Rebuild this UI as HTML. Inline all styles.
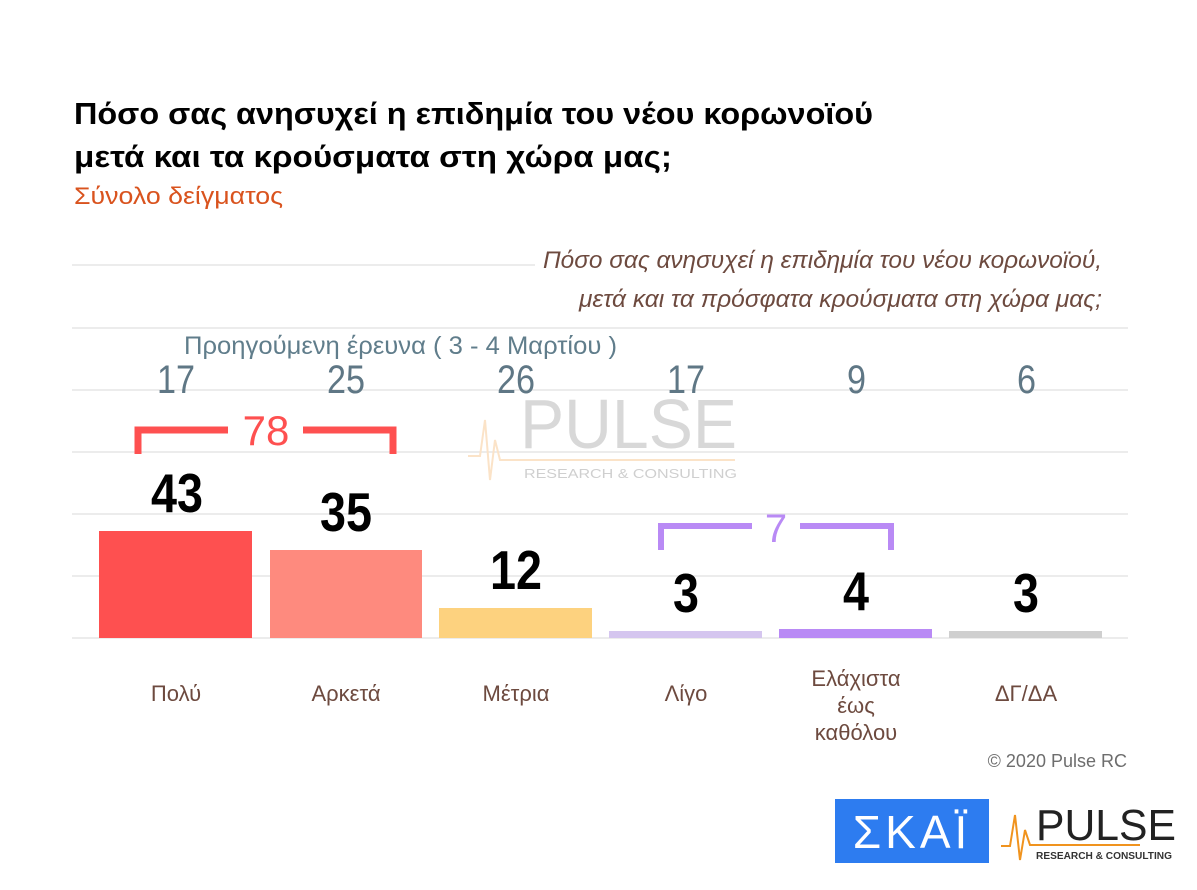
<!DOCTYPE html>
<html><head><meta charset="utf-8"><style>
body{margin:0;background:#fff;}
svg text{font-family:"Liberation Sans",sans-serif;}
</style></head><body>
<svg width="1197" height="885" viewBox="0 0 1197 885" xmlns="http://www.w3.org/2000/svg">
<rect width="1197" height="885" fill="#fff"/>
<text x="74" y="124" font-size="31" font-weight="bold" fill="#000" textLength="799" lengthAdjust="spacingAndGlyphs">Πόσο σας ανησυχεί η επιδημία του νέου κορωνοϊού</text>
<text x="74" y="167" font-size="31" font-weight="bold" fill="#000" textLength="598" lengthAdjust="spacingAndGlyphs">μετά και τα κρούσματα στη χώρα μας;</text>
<text x="74" y="204" font-size="24" fill="#d9531e" textLength="209" lengthAdjust="spacingAndGlyphs">Σύνολο δείγματος</text>
<g stroke="#e6e6e6" stroke-width="1.5">
<line x1="72" y1="265" x2="535" y2="265"/>
<line x1="72" y1="328" x2="1128" y2="328"/>
<line x1="72" y1="390" x2="1128" y2="390"/>
<line x1="72" y1="452" x2="1128" y2="452"/>
<line x1="72" y1="514" x2="1128" y2="514"/>
<line x1="72" y1="576" x2="1128" y2="576"/>
<line x1="72" y1="638" x2="1128" y2="638"/>
</g>
<text x="543" y="268" font-size="24" font-style="italic" fill="#6d4a3f" textLength="559" lengthAdjust="spacingAndGlyphs">Πόσο σας ανησυχεί η επιδημία του νέου κορωνοϊού,</text>
<text x="579" y="307" font-size="24" font-style="italic" fill="#6d4a3f" textLength="523" lengthAdjust="spacingAndGlyphs">μετά και τα πρόσφατα κρούσματα στη χώρα μας;</text>
<text x="184" y="354" font-size="25" fill="#607d8b" textLength="433" lengthAdjust="spacingAndGlyphs">Προηγούμενη έρευνα   ( 3 - 4  Μαρτίου )</text>
<g font-size="40" fill="#5f7785">
<text x="157" y="393" textLength="38" lengthAdjust="spacingAndGlyphs">17</text>
<text x="327" y="393" textLength="38" lengthAdjust="spacingAndGlyphs">25</text>
<text x="497" y="393" textLength="38" lengthAdjust="spacingAndGlyphs">26</text>
<text x="667" y="393" textLength="38" lengthAdjust="spacingAndGlyphs">17</text>
<text x="847" y="393" textLength="19" lengthAdjust="spacingAndGlyphs">9</text>
<text x="1017" y="393" textLength="19" lengthAdjust="spacingAndGlyphs">6</text>
</g>
<!-- watermark -->
<text x="520" y="448" font-size="70" fill="#d8d8d8" textLength="217" lengthAdjust="spacingAndGlyphs">PULSE</text>
<text x="524" y="478" font-size="13" fill="#cfcfcf" textLength="213" lengthAdjust="spacingAndGlyphs">RESEARCH &amp; CONSULTING</text>
<polyline points="468,456 480,456 485,420 490,480 495,440 500,460 735,460" fill="none" stroke="#fbe3c8" stroke-width="2"/>
<!-- brackets -->
<g fill="none" stroke="#fe5050" stroke-width="7">
<polyline points="138,454 138,430 228,430"/>
<polyline points="303,430 393,430 393,454"/>
</g>
<text x="266" y="445" font-size="42" fill="#fe5050" text-anchor="middle">78</text>
<g fill="none" stroke="#b98af5" stroke-width="6">
<polyline points="661,550 661,526 752,526"/>
<polyline points="800,526 891,526 891,550"/>
</g>
<text x="776" y="542" font-size="40" fill="#b98af5" text-anchor="middle">7</text>
<!-- bars -->
<rect x="99" y="531" width="153" height="107" fill="#fe5050"/>
<rect x="270" y="550" width="152" height="88" fill="#fe8a7e"/>
<rect x="439" y="608" width="153" height="30" fill="#fdd27f"/>
<rect x="609" y="631" width="153" height="7" fill="#d5c6ef"/>
<rect x="779" y="629" width="153" height="9" fill="#b98af5"/>
<rect x="949" y="631" width="153" height="7" fill="#cfcfcf"/>
<g font-size="55" font-weight="bold" fill="#000">
<text x="151" y="512" textLength="52" lengthAdjust="spacingAndGlyphs">43</text>
<text x="320" y="531" textLength="52" lengthAdjust="spacingAndGlyphs">35</text>
<text x="490" y="589" textLength="52" lengthAdjust="spacingAndGlyphs">12</text>
<text x="673" y="612" textLength="26" lengthAdjust="spacingAndGlyphs">3</text>
<text x="843" y="610" textLength="26" lengthAdjust="spacingAndGlyphs">4</text>
<text x="1013" y="612" textLength="26" lengthAdjust="spacingAndGlyphs">3</text>
</g>
<g font-size="22" fill="#6d4a3f" text-anchor="middle">
<text x="176" y="701">Πολύ</text><text x="346" y="701">Αρκετά</text><text x="516" y="701">Μέτρια</text>
<text x="686" y="701">Λίγο</text>
<text x="856" y="686">Ελάχιστα</text><text x="856" y="713">έως</text><text x="856" y="740">καθόλου</text>
<text x="1026" y="701">ΔΓ/ΔΑ</text>
</g>
<text x="1127" y="767" font-size="18" fill="#6d6d6d" text-anchor="end">© 2020 Pulse RC</text>
<rect x="835" y="799" width="154" height="64" fill="#2d7cf0"/>
<text x="912" y="848" font-size="46" fill="#fff" text-anchor="middle" letter-spacing="4">ΣΚΑΪ</text>
<text x="1036" y="840" font-size="44" fill="#222" textLength="140" lengthAdjust="spacingAndGlyphs">PULSE</text>
<polyline points="1001,846 1010,846 1015,815 1020,860 1025,830 1030,845 1140,845" fill="none" stroke="#f0931e" stroke-width="2"/>
<text x="1036" y="859" font-size="10" fill="#333" font-weight="bold" textLength="136" lengthAdjust="spacingAndGlyphs">RESEARCH &amp; CONSULTING</text>
</svg>
</body></html>
